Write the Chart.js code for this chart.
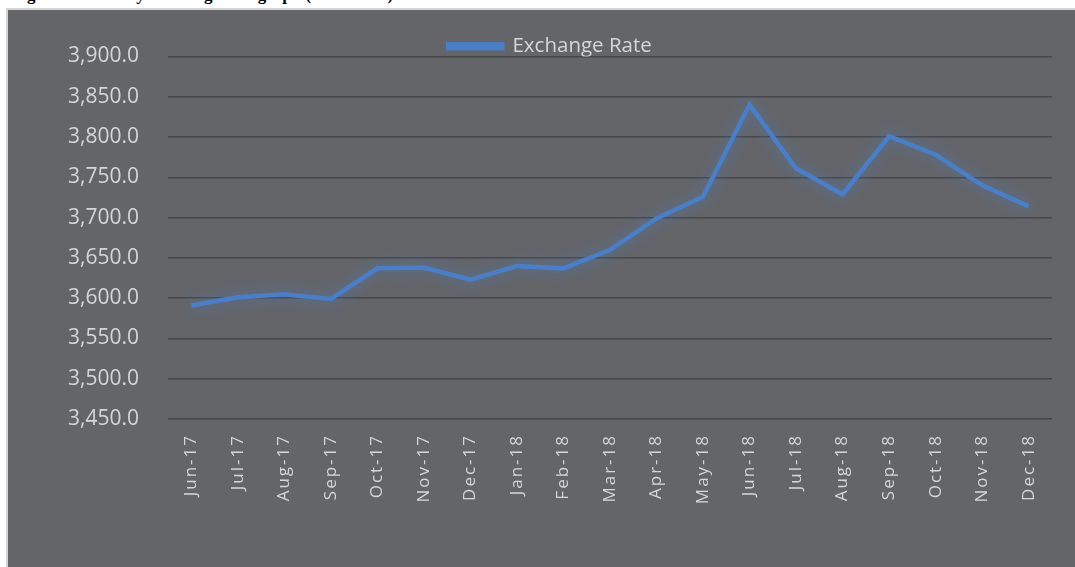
<!DOCTYPE html>
<html>
<head>
<meta charset="utf-8">
<script src="https://cdn.jsdelivr.net/npm/chart.js@4.4.1/dist/chart.umd.min.js"></script>
<style>
  html, body { margin: 0; padding: 0; background: #fff; overflow: hidden; }
  body { width: 1075px; height: 567px; position: relative; }
  .title {
    position: absolute; left: 12px; top: -15px;
    font: bold 17px "Liberation Serif", serif; line-height: 20px;
    color: #000; white-space: nowrap;
  }
  .frame {
    position: absolute; left: 6px; top: 8px; right: 0; bottom: 0;
    background: #646569;
    border-left: 2px solid #d4d4d4; border-top: 2px solid #d4d4d4;
  }
  .chart-box { position: absolute; left: 0; top: 0; width: 1067px; height: 557px; }
</style>
</head>
<body>
<div class="title">Figure 4: Monthly Exchange rate graph (UGX/USD)</div>
<div class="frame">
  <div class="chart-box"><canvas id="rateChart"></canvas></div>
</div>
<script>
// Meses (eixo X)
const months = ['Jun-17', 'Jul-17', 'Aug-17', 'Sep-17', 'Oct-17', 'Nov-17', 'Dec-17',
  'Jan-18', 'Feb-18', 'Mar-18', 'Apr-18', 'May-18', 'Jun-18', 'Jul-18', 'Aug-18',
  'Sep-18', 'Oct-18', 'Nov-18', 'Dec-18'];

// Taxa de câmbio
const exchangeRate = [3591, 3601, 3605, 3599, 3637, 3638, 3623,
  3640, 3637, 3660, 3699, 3726, 3840, 3761, 3729,
  3801, 3778, 3740, 3714];

// Limites do eixo Y
const yMin = 3450;
const yMax = 3900;
const yStep = 50;

const lineColor = '#4a7ec6';
const textColor = '#d6d6d6';
const gridColor = '#46474a';

// Brilho em volta da linha
const glowPlugin = {
  id: 'glow',
  beforeDatasetsDraw(chart) {
    const ctx = chart.ctx;
    ctx.save();
    ctx.shadowColor = 'rgba(74, 126, 198, 0.75)';
    ctx.shadowBlur = 14;
  },
  afterDatasetsDraw(chart) {
    chart.ctx.restore();
  }
};

// Espaçamento entre letras nos rótulos do eixo X
const spacedTicks = {
  id: 'spacedTicks',
  afterLayout(chart) {
    const sc = chart.scales.x;
    if (sc._spaced) return;
    const orig = sc.drawLabels.bind(sc);
    sc.drawLabels = function(area) {
      chart.ctx.save();
      chart.ctx.letterSpacing = '2px';
      orig(area);
      chart.ctx.restore();
    };
    sc._spaced = true;
  }
};

// Legenda mais baixa: encolhe a caixa para o gráfico subir
const tightLegend = {
  id: 'tightLegend',
  beforeLayout(chart) {
    const lg = chart.legend;
    if (!lg || lg._tight) return;
    const origFit = lg.fit.bind(lg);
    lg.fit = function() {
      origFit();
      this.height -= 10;
    };
    lg._tight = true;
  }
};

new Chart(document.getElementById('rateChart'), {
  type: 'line',
  data: {
    labels: months,
    datasets: [{
      label: 'Exchange Rate',
      data: exchangeRate,
      borderColor: lineColor,
      backgroundColor: lineColor,
      borderWidth: 4.5,
      pointRadius: 0,
      tension: 0,
      fill: false
    }]
  },
  options: {
    responsive: true,
    maintainAspectRatio: false,
    animation: false,
    layout: { padding: { top: 26, right: 23, left: 40, bottom: 0 } },
    plugins: {
      legend: {
        position: 'top',
        labels: {
          color: textColor,
          font: { family: 'Open Sans', size: 20.5 },
          boxWidth: 54,
          boxHeight: 4,
          padding: 0
        }
      },
      tooltip: { enabled: false }
    },
    scales: {
      x: {
        offset: true,
        grid: { display: false, drawTicks: false },
        border: { display: false },
        ticks: {
          color: textColor,
          font: { family: 'Open Sans', size: 17 },
          minRotation: 90,
          maxRotation: 90,
          autoSkip: false,
          padding: 15
        },
        afterFit(scale) { scale.height = 148; }
      },
      y: {
        min: yMin,
        max: yMax,
        grid: { color: gridColor, lineWidth: 1.5, drawTicks: false },
        border: { display: false },
        ticks: {
          stepSize: yStep,
          color: textColor,
          font: { family: 'Open Sans', size: 21 },
          padding: 29,
          callback: v => v.toLocaleString('en-US', { minimumFractionDigits: 1, maximumFractionDigits: 1 })
        },
        afterFit(scale) { scale.width = 120; }
      }
    }
  },
  plugins: [glowPlugin, spacedTicks, tightLegend]
});
</script>
</body>
</html>
